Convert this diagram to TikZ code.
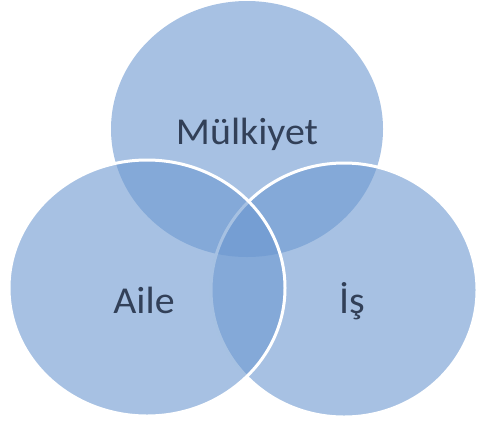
\documentclass[tikz,border=0pt]{standalone}
\usepackage{fontspec}
\setmainfont{Carlito}
\usetikzlibrary{shapes.geometric}
\definecolor{vennblue}{RGB}{108,152,208}
\definecolor{venntext}{RGB}{50,64,88}
\tikzset{
  venn/.style={ellipse, fill=vennblue, fill opacity=0.6, inner sep=0pt},
  vennedge/.style={venn, draw=white, draw opacity=1, line width=3pt},
  label/.style={text=venntext, font=\fontsize{38}{44}\selectfont, inner sep=0pt, transform shape, xscale=1.05}
}
\begin{document}
\begin{tikzpicture}[x=1pt,y=-1pt]
\useasboundingbox (0,0) rectangle (478,426);
\node[venn, minimum width=272pt, minimum height=256pt] (top) at (247,129) {};
\node[vennedge, minimum width=266pt, minimum height=254pt] (right) at (344,290) {};
\node[vennedge, minimum width=276pt, minimum height=256pt] (left) at (147,288) {};
\node[label] (mulk) at (247,134) {Mülkiyet};
\node[label] (aile) at (144,300) {Aile};
\node[label] (is) at (352,301) {İş};
\end{tikzpicture}
\end{document}
